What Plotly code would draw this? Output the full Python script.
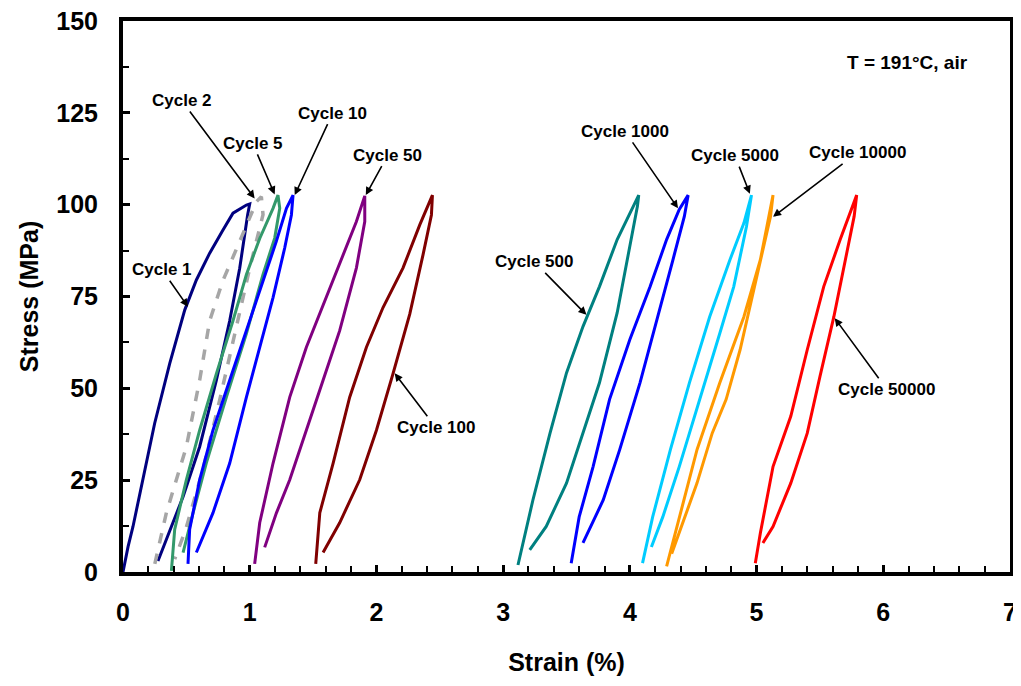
import plotly.graph_objects as go

# Hysteresis loops: strain (%) and stress (MPa)
c1_strain = [0.0, 0.04, 0.079, 0.158, 0.25, 0.369, 0.487, 0.579, 0.684, 0.789, 0.868, 0.974, 1.0,
             0.984, 0.921, 0.842, 0.737, 0.605, 0.474, 0.343, 0.276]
c1_stress = [0.0, 6.9, 12.4, 25.1, 40.5, 56.8, 71.3, 79.5, 86.8, 93.1, 97.7, 99.9, 100.2,
             97.3, 82.7, 68.4, 52.2, 34.1, 20.5, 8.9, 3.0]

c2_strain = [0.251, 0.343, 0.50, 0.605, 0.684, 0.787, 0.921, 1.053, 1.092,
             1.105, 1.0, 0.89, 0.763, 0.63, 0.495, 0.408]
c2_stress = [2.2, 16.2, 34.1, 52.2, 68.4, 79.2, 90.0, 100.8, 102.2,
             97.3, 82.7, 65.7, 46.8, 27.8, 11.6, 3.5]

c5_strain = [0.382, 0.408, 0.50, 0.605, 0.737, 0.868, 0.974, 1.079, 1.184, 1.223,
             1.237, 1.197, 1.105, 0.974, 0.816, 0.658, 0.553, 0.474]
c5_stress = [0.3, 11.6, 25.1, 38.6, 54.0, 68.4, 81.0, 90.8, 99.0, 102.6,
             99.0, 90.9, 81.0, 64.9, 47.6, 29.7, 16.1, 5.3]

c10_strain = [0.513, 0.526, 0.605, 0.71, 0.842, 0.974, 1.105, 1.21, 1.29, 1.342,
              1.329, 1.276, 1.184, 1.079, 0.974, 0.842, 0.71, 0.579]
c10_stress = [2.2, 11.6, 25.1, 38.6, 52.2, 65.7, 79.2, 90.0, 99.0, 102.6,
              97.2, 88.2, 74.7, 61.2, 47.6, 29.6, 16.1, 5.3]

c50_strain = [1.039, 1.079, 1.184, 1.316, 1.447, 1.605, 1.737, 1.842, 1.908,
              1.908, 1.842, 1.71, 1.579, 1.447, 1.316, 1.211, 1.118]
c50_stress = [2.2, 13.4, 29.6, 47.6, 61.2, 74.7, 86.4, 95.4, 102.4,
              95.4, 82.8, 65.7, 52.2, 38.6, 25.1, 16.1, 6.7]

c100_strain = [1.521, 1.553, 1.658, 1.789, 1.921, 2.052, 2.21, 2.342, 2.442,
               2.434, 2.368, 2.263, 2.131, 2.0, 1.868, 1.71, 1.579]
c100_stress = [2.2, 16.1, 29.6, 47.6, 61.2, 72.0, 82.8, 94.5, 102.6,
               97.2, 86.4, 70.2, 54.0, 38.6, 25.1, 13.4, 5.3]

c500_strain = [3.117, 3.235, 3.37, 3.50, 3.63, 3.76, 3.90, 4.0, 4.07,
               4.06, 4.0, 3.90, 3.76, 3.63, 3.50, 3.34, 3.21]
c500_stress = [1.9, 19.6, 37.8, 54.2, 66.8, 77.7, 90.5, 97.8, 102.6,
               99.6, 88.7, 70.6, 51.5, 37.8, 24.2, 12.4, 6.0]

c1000_strain = [3.537, 3.60, 3.71, 3.84, 4.0, 4.16, 4.29, 4.39, 4.46,
                4.43, 4.34, 4.24, 4.08, 3.92, 3.79, 3.63]
c1000_stress = [2.4, 15.0, 28.7, 47.0, 63.3, 77.7, 90.5, 98.7, 102.6,
                96.8, 85.0, 72.3, 51.5, 33.3, 19.6, 7.9]

c5000_strain = [4.10, 4.18, 4.32, 4.47, 4.63, 4.79, 4.90, 4.96,
                4.92, 4.82, 4.71, 4.55, 4.39, 4.26, 4.17]
c5000_stress = [2.4, 15.0, 33.3, 51.5, 69.5, 85.0, 95.0, 102.6,
                94.0, 77.7, 65.0, 47.0, 28.7, 15.0, 6.8]

c10000_strain = [4.29, 4.39, 4.53, 4.71, 4.90, 5.03, 5.11, 5.13,
                 5.11, 5.05, 4.97, 4.87, 4.76, 4.65, 4.53, 4.39, 4.33]
c10000_stress = [1.5, 15.0, 33.3, 51.5, 69.5, 85.0, 98.7, 102.6,
                 96.8, 87.8, 76.0, 60.5, 47.0, 37.8, 24.2, 10.6, 5.0]

c50000_strain = [4.99, 5.03, 5.13, 5.27, 5.40, 5.53, 5.66, 5.74, 5.79,
                 5.77, 5.71, 5.61, 5.50, 5.40, 5.27, 5.13, 5.05]
c50000_stress = [2.4, 10.6, 28.7, 42.4, 60.5, 77.7, 90.5, 97.8, 102.6,
                 96.8, 86.9, 69.5, 53.2, 37.8, 24.2, 12.4, 7.9]

# arrow labels: text, arrow tip (strain, stress), label offset from tip (px)
label_text = ["Cycle 1", "Cycle 2", "Cycle 5", "Cycle 10", "Cycle 50", "Cycle 100",
              "Cycle 500", "Cycle 1000", "Cycle 5000", "Cycle 10000", "Cycle 50000"]
tip_strain = [0.513, 1.039, 1.197, 1.355, 1.916, 2.144, 3.657, 4.38, 4.947, 5.13, 5.617]
tip_stress = [72.2, 101.7, 102.8, 102.6, 102.6, 54.1, 70.0, 99.0, 103.0, 96.7, 69.1]
label_dx = [-26, -73, -22, 38, 22, 41, -52, -53, -15, 84, 52]
label_dy = [-37, -98, -51, -82, -40, 54, -53, -77, -38, -64, 71]

fig = go.Figure()

loops = [
    (c1_strain, c1_stress, "#00007F", "solid"),
    (c2_strain, c2_stress, "#A6A6A6", "dash"),
    (c5_strain, c5_stress, "#33996B", "solid"),
    (c10_strain, c10_stress, "#0000FF", "solid"),
    (c50_strain, c50_stress, "#800080", "solid"),
    (c100_strain, c100_stress, "#800000", "solid"),
    (c500_strain, c500_stress, "#008080", "solid"),
    (c1000_strain, c1000_stress, "#0000FF", "solid"),
    (c5000_strain, c5000_stress, "#00CCFF", "solid"),
    (c10000_strain, c10000_stress, "#FF9900", "solid"),
    (c50000_strain, c50000_stress, "#FF0000", "solid"),
]
for xs, ys, col, dash in loops:
    fig.add_trace(go.Scatter(
        x=xs, y=ys, mode="lines",
        line=dict(color=col, width=3.5 if dash == "dash" else 3, dash=dash),
        showlegend=False, hoverinfo="skip"
    ))

for t, xs, ys, dx, dy in zip(label_text, tip_strain, tip_stress, label_dx, label_dy):
    fig.add_annotation(
        x=xs, y=ys, text=t, showarrow=True, ax=dx, ay=dy,
        arrowhead=2, arrowsize=1, arrowwidth=1.6, arrowcolor="black",
        font=dict(family="Liberation Sans", size=17, color="black", weight="bold")
    )

fig.add_annotation(
    xref="paper", yref="paper", x=0.884, y=0.924, showarrow=False,
    xanchor="center", yanchor="middle",
    text="T = 191°C, air",
    font=dict(family="Liberation Sans", size=19, color="black", weight="bold")
)

axis_font = dict(family="Liberation Sans", size=25, color="black", weight="bold")
title_font = dict(family="Liberation Sans", size=25, color="black", weight="bold")

fig.update_xaxes(
    range=[0, 7], tick0=0, dtick=1, ticks="inside", ticklen=7, tickwidth=3, tickcolor="black",
    minor=dict(dtick=0.2, ticks="inside", ticklen=6, tickwidth=2, tickcolor="black"),
    showline=True, linewidth=4, linecolor="black", mirror=True, automargin=False,
    showgrid=False, zeroline=False, tickfont=axis_font, ticklabelstandoff=15,
    ticklabeloverflow="allow",
    title=dict(text="Strain (%)", font=title_font, standoff=29)
)
fig.update_yaxes(
    range=[0, 150], tick0=0, dtick=25, ticks="inside", ticklen=7, tickwidth=3, tickcolor="black",
    minor=dict(dtick=12.5, ticks="inside", ticklen=6, tickwidth=2, tickcolor="black"),
    showline=True, linewidth=4, linecolor="black", mirror=True, automargin=False,
    showgrid=False, zeroline=False, tickfont=axis_font, ticklabelstandoff=16,
    ticklabeloverflow="allow",
    title=dict(text="Stress (MPa)", font=title_font, standoff=12)
)

# page is drawn 8px in from the window corner, so the figure is 8px smaller
fig.update_layout(
    width=1013, height=678,
    margin=dict(l=115, r=11, t=13, b=114),
    plot_bgcolor="white", paper_bgcolor="white",
    font=dict(family="Liberation Sans"),
)

fig.write_html("out.html")
